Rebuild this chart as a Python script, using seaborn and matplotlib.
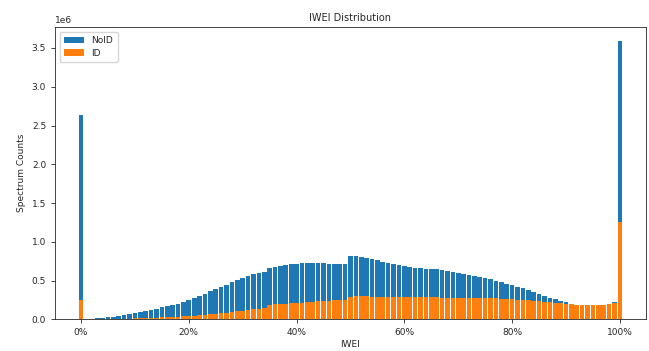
import numpy as np
import pandas as pd
import matplotlib
matplotlib.use("Agg")
import matplotlib.pyplot as plt
from matplotlib.ticker import PercentFormatter
import seaborn as sns

# IWEI bins (percent) and spectrum counts per bin, in millions
iwei_pct = list(range(101))

id_millions = [
    0.25, 0.002, 0.002, 0.003, 0.004, 0.005, 0.006, 0.007, 0.008, 0.010,
    0.012, 0.014, 0.016, 0.019, 0.022, 0.025, 0.029, 0.033, 0.037, 0.041,
    0.045, 0.050, 0.055, 0.060, 0.065, 0.070, 0.078, 0.086, 0.094, 0.102,
    0.110, 0.120, 0.128, 0.135, 0.142, 0.190, 0.195, 0.200, 0.205, 0.210,
    0.213, 0.218, 0.223, 0.228, 0.232, 0.236, 0.240, 0.245, 0.250, 0.255,
    0.295, 0.296, 0.296, 0.296, 0.295, 0.294, 0.293, 0.292, 0.291, 0.290,
    0.289, 0.288, 0.287, 0.286, 0.285, 0.284, 0.283, 0.282, 0.281, 0.280,
    0.279, 0.278, 0.277, 0.276, 0.275, 0.274, 0.272, 0.270, 0.267, 0.264,
    0.260, 0.256, 0.251, 0.246, 0.240, 0.234, 0.228, 0.222, 0.216, 0.210,
    0.204, 0.196, 0.190, 0.185, 0.183, 0.183, 0.184, 0.188, 0.197, 0.215,
    1.26,
]

noid_millions = [
    2.38, 0.003, 0.008, 0.012, 0.016, 0.025, 0.029, 0.038, 0.047, 0.060,
    0.073, 0.081, 0.089, 0.101, 0.113, 0.130, 0.141, 0.152, 0.168, 0.184,
    0.205, 0.225, 0.245, 0.270, 0.295, 0.320, 0.342, 0.364, 0.386, 0.408,
    0.430, 0.440, 0.452, 0.465, 0.473, 0.475, 0.485, 0.495, 0.500, 0.505,
    0.507, 0.507, 0.507, 0.502, 0.498, 0.489, 0.480, 0.470, 0.465, 0.460,
    0.525, 0.519, 0.509, 0.494, 0.480, 0.466, 0.452, 0.438, 0.424, 0.410,
    0.396, 0.387, 0.378, 0.374, 0.370, 0.366, 0.362, 0.353, 0.344, 0.330,
    0.321, 0.312, 0.298, 0.284, 0.270, 0.256, 0.243, 0.230, 0.213, 0.196,
    0.180, 0.164, 0.149, 0.129, 0.110, 0.091, 0.072, 0.058, 0.044, 0.030,
    0.016, 0.004, 0.000, 0.000, 0.002, 0.002, 0.001, 0.002, 0.003, 0.005,
    2.33,
]

df = pd.DataFrame({
    "iwei": iwei_pct,
    "ID": np.array(id_millions) * 1e6,
    "NoID": np.array(noid_millions) * 1e6,
})
df["total"] = df["ID"] + df["NoID"]

sns.set_style("ticks")
plt.rcParams["font.family"] = ["DejaVu Sans"]

fs = 6.5
fig = plt.figure(figsize=(6.49, 3.51), dpi=100)
ax = fig.add_axes([0.085, 0.09, 0.91, 0.833])

# NoID stacked on top of ID: draw the full height first, then ID over it
sns.barplot(data=df, x="iwei", y="total", native_scale=True, color="#1f77b4",
            saturation=1, width=0.86, linewidth=0, label="NoID", ax=ax)
sns.barplot(data=df, x="iwei", y="ID", native_scale=True, color="#ff7f0e",
            saturation=1, width=0.86, linewidth=0, label="ID", ax=ax)

ax.set_xticks([0, 20, 40, 60, 80, 100])
ax.xaxis.set_major_formatter(PercentFormatter(xmax=100, decimals=0))
ax.set_xlim(-4.8, 104.8)
ax.set_ylim(0, 3.77e6)
ax.set_yticks(np.arange(0, 3.51e6, 0.5e6))
ax.tick_params(labelsize=fs, length=3, width=0.6)
ax.yaxis.get_offset_text().set_fontsize(fs)
for s in ax.spines.values():
    s.set_linewidth(0.6)
    s.set_visible(True)

ax.set_title("IWEI Distribution", fontsize=fs + 0.5, pad=4)
ax.set_xlabel("IWEI", fontsize=fs, labelpad=2)
ax.set_ylabel("Spectrum Counts", fontsize=fs, labelpad=4)
ax.legend(loc="upper left", fontsize=fs, handlelength=2.2, borderpad=0.5,
          labelspacing=0.4, framealpha=0.8)

fig.savefig("out.png", dpi=100)
